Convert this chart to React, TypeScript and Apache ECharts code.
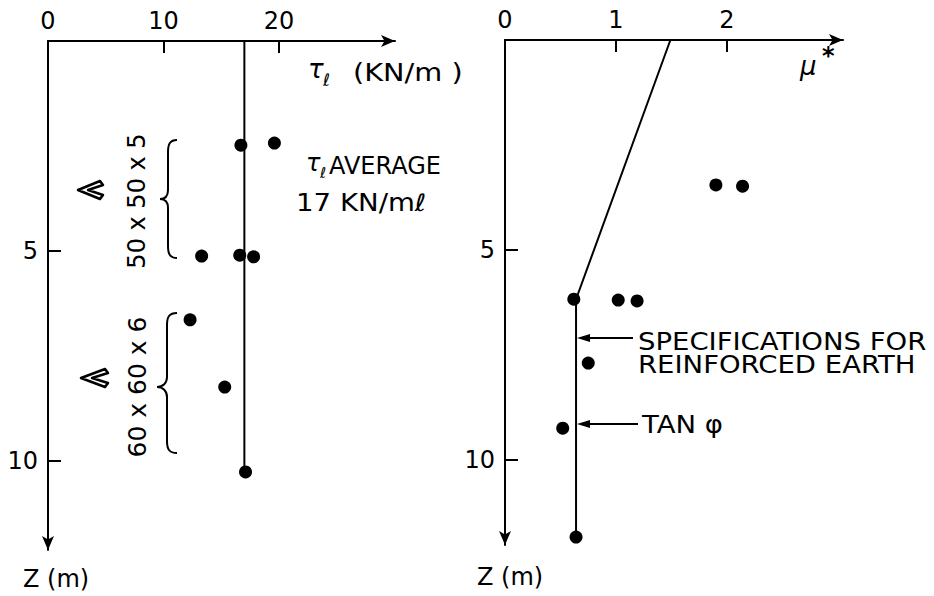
import React, { useEffect, useRef } from "react";
import * as echarts from "echarts";

// ---------- data ----------
const tauLabelValues = [0, 10, 20];
const tauTickValues = [10, 20];
const depthLabelValues = [5, 10];
const depthTickValues = [5, 10];
const muLabelValues = [0, 1, 2];
const muTickValues = [1, 2];

// left panel: tau_l (kN/m) vs depth Z (m)
const tauPoints: [number, number][] = [
  [16.7, 2.48],
  [19.6, 2.43],
  [13.3, 5.12],
  [16.6, 5.1],
  [17.8, 5.14],
  [12.3, 6.64],
  [15.3, 8.24],
  [17.1, 10.26],
];
const tauAverageLine: [number, number][] = [
  [17, 0],
  [17, 10.26],
];

// right panel: mu* vs depth Z (m)
const muPoints: [number, number][] = [
  [1.9, 3.45],
  [2.14, 3.48],
  [0.62, 6.17],
  [1.02, 6.19],
  [1.19, 6.21],
  [0.75, 7.69],
  [0.52, 9.24],
  [0.64, 11.83],
];
const specLine: [number, number][] = [
  [1.49, 0],
  [0.64, 6.17],
  [0.64, 11.83],
];

// ---------- shapes ----------
const braceA =
  "M17,0 C10,0 8,4 8,12 L8,50 C8,56 5,59 0,59 C5,59 8,62 8,68 L8,106 C8,114 10,118 17,118";
const braceB =
  "M20,0 C12,0 10,4 10,12 L10,64 C10,70 6,74 0,74 C6,74 10,78 10,84 L10,128 C10,136 12,140 20,140";
try {
  echarts.graphic.registerShape("braceA", echarts.graphic.extendPath(braceA, {}) as any);
  echarts.graphic.registerShape("braceB", echarts.graphic.extendPath(braceB, {}) as any);
} catch (e) {
  // already registered
}

const FONT = "DejaVu Sans";
const INK = "#000";

function txt(
  text: string,
  x: number,
  y: number,
  size: number,
  opts: { align?: string; rotation?: number; scaleX?: number; italic?: boolean; bold?: boolean } = {}
) {
  const align = opts.align || "left";
  return {
    type: "text",
    x,
    y,
    rotation: opts.rotation || 0,
    scaleX: opts.scaleX || 1,
    silent: true,
    style: {
      text,
      fontSize: size,
      fontFamily: FONT,
      fontStyle: opts.italic ? "italic" : "normal",
      fontWeight: opts.bold ? "bold" : "normal",
      fill: INK,
      align,
      verticalAlign: "middle",
      textAlign: align,
      textVerticalAlign: "middle",
    },
  };
}

function arrowLeft(x0: number, x1: number, y: number) {
  return [
    { type: "line", silent: true, shape: { x1: x0 + 10, y1: y, x2: x1, y2: y }, style: { stroke: INK, lineWidth: 2 } },
    {
      type: "polygon",
      silent: true,
      shape: { points: [[x0, y], [x0 + 13, y - 4], [x0 + 13, y + 4]] },
      style: { fill: INK },
    },
  ];
}

function chevron(pts: number[][]) {
  return {
    type: "polygon",
    silent: true,
    shape: { points: pts },
    style: { fill: "#fff", stroke: INK, lineWidth: 2.5, lineJoin: "round" },
  };
}

const axisLabelStyle = { fontSize: 24, fontFamily: FONT, color: INK };
const axisLineX = { show: true, lineStyle: { color: INK, width: 2 }, symbol: ["none", "arrow"], symbolSize: [9, 14] };
const axisLineY = { show: true, lineStyle: { color: INK, width: 2 }, symbol: ["arrow", "none"], symbolSize: [9, 14] };

export default function App() {
  const ref = useRef<HTMLDivElement>(null);

  useEffect(() => {
    if (!ref.current) return;
    const chart = echarts.init(ref.current, null, { renderer: "svg" });
    const option: any = {
      animation: false,
      backgroundColor: "#fff",
      grid: [
        { left: 48, top: 41, width: 347, height: 509 },
        { left: 505, top: 40, width: 338, height: 505 },
      ],
      xAxis: [
        {
          gridIndex: 0,
          type: "value",
          position: "top",
          min: 0,
          max: 30.04,
          axisLine: axisLineX,
          axisTick: { show: true, inside: true, length: 12, lineStyle: { color: INK, width: 2 }, customValues: tauTickValues },
          axisLabel: { ...axisLabelStyle, margin: 8, customValues: tauLabelValues },
          splitLine: { show: false },
        },
        {
          gridIndex: 1,
          type: "value",
          position: "top",
          min: 0,
          max: 3.045,
          axisLine: axisLineX,
          axisTick: { show: true, inside: true, length: 12, lineStyle: { color: INK, width: 2 }, customValues: muTickValues },
          axisLabel: { ...axisLabelStyle, margin: 8, customValues: muLabelValues },
          splitLine: { show: false },
        },
      ],
      yAxis: [
        {
          gridIndex: 0,
          type: "value",
          inverse: true,
          position: "left",
          min: 0,
          max: 12.12,
          axisLine: axisLineY,
          axisTick: { show: true, inside: true, length: 13, lineStyle: { color: INK, width: 2 }, customValues: depthTickValues },
          axisLabel: { ...axisLabelStyle, margin: 10, customValues: depthLabelValues },
          splitLine: { show: false },
        },
        {
          gridIndex: 1,
          type: "value",
          inverse: true,
          position: "left",
          min: 0,
          max: 12.02,
          axisLine: axisLineY,
          axisTick: { show: true, inside: true, length: 13, lineStyle: { color: INK, width: 2 }, customValues: depthTickValues },
          axisLabel: { ...axisLabelStyle, margin: 10, customValues: depthLabelValues },
          splitLine: { show: false },
        },
      ],
      series: [
        {
          type: "line",
          xAxisIndex: 0,
          yAxisIndex: 0,
          data: tauAverageLine,
          symbol: "none",
          silent: true,
          lineStyle: { color: INK, width: 2 },
        },
        {
          type: "scatter",
          xAxisIndex: 0,
          yAxisIndex: 0,
          data: tauPoints,
          symbolSize: 13,
          itemStyle: { color: INK, opacity: 1 },
        },
        {
          type: "line",
          xAxisIndex: 1,
          yAxisIndex: 1,
          data: specLine,
          symbol: "none",
          silent: true,
          lineStyle: { color: INK, width: 2 },
        },
        {
          type: "scatter",
          xAxisIndex: 1,
          yAxisIndex: 1,
          data: muPoints,
          symbolSize: 13,
          itemStyle: { color: INK, opacity: 1 },
        },
      ],
      graphic: [
        // left panel annotations
        txt("τ", 308, 69, 26, { italic: true }),
        txt("ℓ", 323, 80, 17, { italic: true }),
        txt("(KN/m )", 353, 72, 25, { scaleX: 1.15 }),
        txt("τ", 306, 163, 24, { italic: true }),
        txt("ℓ", 320, 173, 15, { italic: true }),
        txt("AVERAGE", 329, 166, 24),
        txt("17 KN/mℓ", 296, 203, 24, { scaleX: 1.15 }),
        txt("50 x 50 x 5", 137, 201, 24, { align: "center", rotation: Math.PI / 2 }),
        txt("60 x 60 x 6", 137, 387, 25, { align: "center", rotation: Math.PI / 2 }),
        { type: "braceA", x: 160, y: 140, silent: true, style: { fill: "none", stroke: INK, lineWidth: 2 } },
        { type: "braceB", x: 157, y: 313, silent: true, style: { fill: "none", stroke: INK, lineWidth: 2 } },
        chevron([[100, 181], [78, 190], [100, 199], [103, 195], [88, 190], [103, 185]]),
        chevron([[105, 369], [81, 378], [105, 387], [108, 383], [92, 378], [108, 373]]),
        txt("Z (m)", 23, 579, 24),
        // right panel annotations
        txt("μ", 800, 66, 26, { italic: true }),
        txt("*", 822, 56, 24, { bold: true }),
        ...arrowLeft(577, 633, 338),
        txt("SPECIFICATIONS FOR", 638, 341, 25, { scaleX: 1.1 }),
        txt("REINFORCED EARTH", 638, 364, 25, { scaleX: 1.1 }),
        ...arrowLeft(577, 638, 424),
        txt("TAN φ", 642, 424, 25, { scaleX: 1.1 }),
        txt("Z (m)", 477, 577, 24),
      ],
    };
    chart.setOption(option);
    return () => chart.dispose();
  }, []);

  return (
    <div
      ref={ref}
      style={{ position: "fixed", left: 0, top: 0, width: 934, height: 596, background: "#fff" }}
    />
  );
}
